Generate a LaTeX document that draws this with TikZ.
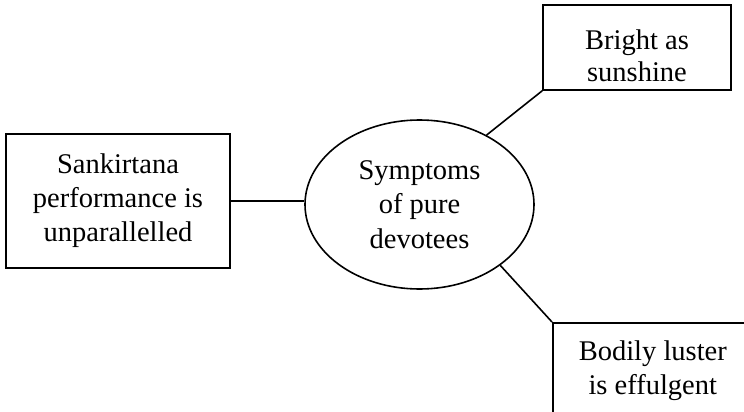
\documentclass[tikz,border=0pt]{standalone}
\usepackage{fontspec}
\setmainfont{Liberation Serif}
\usetikzlibrary{shapes.geometric}

\tikzset{
  idea/.style={draw, line width=1.6pt, rectangle, align=center, inner sep=0pt,
    font=\fontsize{28.5}{34}\selectfont},
  hub/.style={draw, line width=1.6pt, ellipse, inner sep=0pt, align=center,
    minimum width=229pt, minimum height=169pt, font=\fontsize{28.5}{34.5}\selectfont},
  link/.style={line width=1.6pt}
}

\begin{document}
\begin{tikzpicture}[x=1pt, y=-1pt]
  \useasboundingbox (0,0) rectangle (744,412);
  \clip (0,0) rectangle (744,412);

  % central idea
  \node[hub] (e) at (419.5,204.5) {Symptoms\\of pure\\devotees};

  % surrounding attributes
  \node[idea, minimum width=224pt, minimum height=134pt] (lb) at (118,201)
    {Sankirtana\\performance is\\unparallelled};
  \node[idea, minimum width=188pt, minimum height=85pt] (tb) at (637,47.5)
    {\parbox{180pt}{\centering\baselineskip=32pt\rule{0pt}{36pt}Bright as\\sunshine}};
  \node[idea, minimum width=200pt, minimum height=96pt, anchor=north west] (bb)
    at (552,322) {Bodily luster\\is effulgent};

  % connectors
  \draw[link] (lb.east) -- (lb.east -| e.west);
  \draw[link] (tb.south west) -- (e.46);
  \draw[link] (bb.north west) -- (e.-37);
\end{tikzpicture}
\end{document}
